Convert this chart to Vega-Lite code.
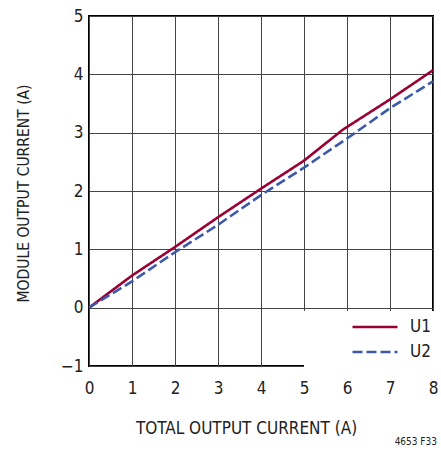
{
  "$schema": "https://vega.github.io/schema/vega-lite/v6.json",
  "width": 344,
  "height": 350,
  "autosize": {"type": "none"},
  "padding": {"left": 89, "top": 16, "right": 8, "bottom": 88},
  "background": "white",
  "config": {
    "view": {"stroke": "#000", "strokeWidth": 2},
    "font": "DejaVu Sans Condensed"
  },
  "title": {
    "text": "4653 F33",
    "orient": "bottom",
    "anchor": "end",
    "frame": "group",
    "fontSize": 10,
    "fontWeight": "normal",
    "font": "DejaVu Sans Condensed",
    "color": "#222",
    "offset": 1,
    "dx": 4
  },
  "data": {
    "values": [
      {"total": 0, "current": 0, "series": "U1"},
      {"total": 1, "current": 0.55, "series": "U1"},
      {"total": 2, "current": 1.04, "series": "U1"},
      {"total": 3, "current": 1.55, "series": "U1"},
      {"total": 4, "current": 2.04, "series": "U1"},
      {"total": 5, "current": 2.52, "series": "U1"},
      {"total": 5.9, "current": 3.05, "series": "U1"},
      {"total": 7, "current": 3.57, "series": "U1"},
      {"total": 8, "current": 4.07, "series": "U1"},
      {"total": 0, "current": 0, "series": "U2"},
      {"total": 1, "current": 0.45, "series": "U2"},
      {"total": 2, "current": 0.95, "series": "U2"},
      {"total": 3, "current": 1.42, "series": "U2"},
      {"total": 4, "current": 1.93, "series": "U2"},
      {"total": 5, "current": 2.4, "series": "U2"},
      {"total": 6, "current": 2.9, "series": "U2"},
      {"total": 7, "current": 3.42, "series": "U2"},
      {"total": 8, "current": 3.88, "series": "U2"}
    ]
  },
  "mark": {"type": "line", "strokeWidth": 2.6},
  "encoding": {
    "x": {
      "field": "total",
      "type": "quantitative",
      "scale": {"domain": [0, 8], "nice": false, "zero": false},
      "axis": {
        "title": "TOTAL OUTPUT CURRENT (A)",
        "values": [0, 1, 2, 3, 4, 5, 6, 7, 8],
        "grid": true,
        "gridColor": "#444",
        "gridOpacity": 1,
        "gridWidth": 1,
        "domain": false,
        "ticks": false,
        "labelFlush": false,
        "labelPadding": 14,
        "labelFontSize": 17,
        "labelColor": "#222",
        "labelFont": "DejaVu Sans Condensed",
        "titleFont": "DejaVu Sans Condensed",
        "titleFontSize": 17,
        "titleFontWeight": "normal",
        "titleColor": "#222",
        "titlePadding": 24,
        "titleX": 157
      }
    },
    "y": {
      "field": "current",
      "type": "quantitative",
      "scale": {"domain": [-1, 5], "nice": false, "zero": false},
      "axis": {
        "title": "MODULE OUTPUT CURRENT (A)",
        "values": [-1, 0, 1, 2, 3, 4, 5],
        "grid": true,
        "gridColor": "#444",
        "gridOpacity": 1,
        "gridWidth": 1,
        "domain": false,
        "ticks": false,
        "labelFlush": false,
        "labelPadding": 6,
        "labelFontSize": 17,
        "labelColor": "#222",
        "labelFont": "DejaVu Sans Condensed",
        "titleFont": "DejaVu Sans Condensed",
        "titleFontSize": 15.5,
        "titleFontWeight": "normal",
        "titleColor": "#222",
        "titleX": -66,
        "titleY": 177,
        "titleBaseline": "middle"
      }
    },
    "color": {
      "field": "series",
      "type": "nominal",
      "scale": {"domain": ["U1", "U2"], "range": ["#990033", "#3D5AA8"]},
      "legend": {
        "title": null,
        "orient": "none",
        "legendX": 215,
        "legendY": 295,
        "fillColor": "white",
        "padding": 9,
        "clipHeight": 14,
        "symbolOffset": 38,
        "symbolType": "stroke",
        "symbolSize": 2025,
        "symbolStrokeWidth": 2.6,
        "labelFontSize": 17,
        "labelFont": "DejaVu Sans Condensed",
        "labelColor": "#222",
        "labelOffset": 11,
        "rowPadding": 8
      }
    },
    "strokeDash": {
      "field": "series",
      "type": "nominal",
      "scale": {"domain": ["U1", "U2"], "range": [[1, 0], [10, 4]]},
      "legend": {
        "title": null,
        "orient": "none",
        "legendX": 215,
        "legendY": 295,
        "fillColor": "white",
        "padding": 9,
        "clipHeight": 14,
        "symbolOffset": 38,
        "symbolType": "stroke",
        "symbolSize": 2025,
        "symbolStrokeWidth": 2.6,
        "labelFontSize": 17,
        "labelFont": "DejaVu Sans Condensed",
        "labelColor": "#222",
        "labelOffset": 11,
        "rowPadding": 8
      }
    }
  }
}
